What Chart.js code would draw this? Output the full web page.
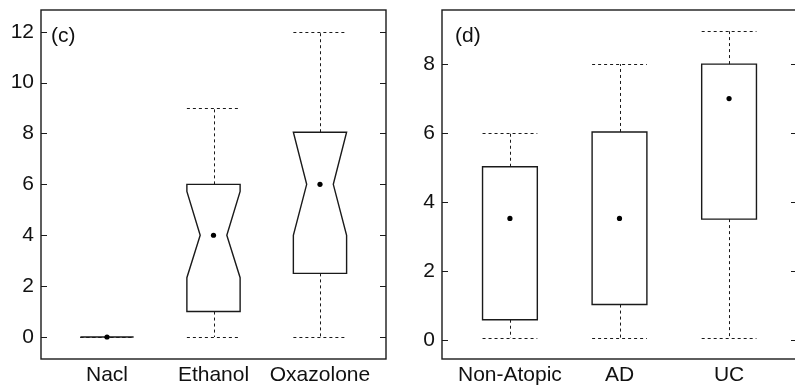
<!DOCTYPE html>
<html>
<head>
<meta charset="utf-8">
<script src="https://cdn.jsdelivr.net/npm/chart.js@4.4.0/dist/chart.umd.min.js"></script>
<style>
  html, body { margin: 0; padding: 0; background: #fff; overflow: hidden; }
  #chartC { position: absolute; left: 0; top: 0; }
  #chartD { position: absolute; left: 400px; top: 0; }
</style>
</head>
<body>
<canvas id="chartC" width="400" height="386"></canvas>
<canvas id="chartD" width="405" height="386"></canvas>
<script>
// Panel (c) - notched boxes
const groupsC = ['Nacl', 'Ethanol', 'Oxazolone'];
const lowC = [0, 0, 0];
const q1C = [0, 1, 2.5];
const medianC = [0, 4, 6];
const q3C = [0, 6, 8.05];
const highC = [0, 9, 12];
const notchLoC = [0, 2.33, 4];
const notchHiC = [0, 5.72, 8.05];
const yTicksC = [0, 2, 4, 6, 8, 10, 12];
const yRangeC = [-0.865, 12.855];

// Panel (d) - plain boxes
const groupsD = ['Non-Atopic', 'AD', 'UC'];
const lowD = [0.05, 0.05, 0.05];
const q1D = [0.58, 1.02, 3.5];
const medianD = [3.52, 3.52, 7];
const q3D = [5.02, 6.03, 8];
const highD = [6, 8, 8.95];
const yTicksD = [0, 2, 4, 6, 8];
const yRangeD = [-0.56, 9.57];

const INK = '#1a1a1a';
const BOX_WIDTH = 0.5;
const FONT = '"Liberation Sans", Arial, Helvetica, sans-serif';

Chart.defaults.font.family = FONT;
Chart.defaults.font.size = 21;
Chart.defaults.color = '#111';

// snap a 1px line onto the pixel grid
const snap = v => Math.round(v) + 0.5;

function makeBoxPlugin(panel) {
    return {
        id: 'boxes' + panel.tag,
        beforeDatasetsDraw(chart) {
            const ctx = chart.ctx;
            const xs = chart.scales.x;
            const ys = chart.scales.y;
            const half = BOX_WIDTH / 2;
            ctx.save();
            ctx.strokeStyle = INK;

            panel.groups.forEach((g, i) => {
                const c = i + 1;
                const xc = snap(xs.getPixelForValue(c));
                const xl = xs.getPixelForValue(c - half);
                const xr = xs.getPixelForValue(c + half);
                const yLow = ys.getPixelForValue(panel.low[i]);
                const yQ1 = ys.getPixelForValue(panel.q1[i]);
                const yMed = ys.getPixelForValue(panel.median[i]);
                const yQ3 = ys.getPixelForValue(panel.q3[i]);
                const yHigh = ys.getPixelForValue(panel.high[i]);

                // whiskers
                ctx.lineWidth = 1;
                ctx.setLineDash([3, 3]);
                ctx.beginPath();
                ctx.moveTo(xc, yQ3); ctx.lineTo(xc, yHigh);
                ctx.moveTo(xc, yQ1); ctx.lineTo(xc, yLow);
                ctx.moveTo(xl, snap(yHigh)); ctx.lineTo(xr, snap(yHigh));
                ctx.moveTo(xl, snap(yLow)); ctx.lineTo(xr, snap(yLow));
                ctx.stroke();

                // box
                ctx.setLineDash([]);
                ctx.lineWidth = 1.4;
                ctx.beginPath();
                if (panel.notchLo) {
                    const xnl = xs.getPixelForValue(c - half / 2);
                    const xnr = xs.getPixelForValue(c + half / 2);
                    const yNlo = ys.getPixelForValue(panel.notchLo[i]);
                    const yNhi = ys.getPixelForValue(panel.notchHi[i]);
                    ctx.moveTo(xl, yQ3);
                    ctx.lineTo(xr, yQ3);
                    ctx.lineTo(xr, yNhi);
                    ctx.lineTo(xnr, yMed);
                    ctx.lineTo(xr, yNlo);
                    ctx.lineTo(xr, yQ1);
                    ctx.lineTo(xl, yQ1);
                    ctx.lineTo(xl, yNlo);
                    ctx.lineTo(xnl, yMed);
                    ctx.lineTo(xl, yNhi);
                    ctx.closePath();
                } else {
                    ctx.rect(xl, yQ3, xr - xl, yQ1 - yQ3);
                }
                ctx.stroke();
            });
            ctx.restore();
        },
        afterDraw(chart) {
            const ctx = chart.ctx;
            const a = chart.chartArea;
            const ys = chart.scales.y;
            ctx.save();
            ctx.strokeStyle = INK;
            ctx.lineWidth = 1.4;
            ctx.strokeRect(a.left, a.top, a.right - a.left, a.bottom - a.top);

            // inward ticks, both sides
            ctx.lineWidth = 1;
            ctx.beginPath();
            panel.yTicks.forEach(v => {
                const y = snap(ys.getPixelForValue(v));
                ctx.moveTo(a.left, y); ctx.lineTo(a.left + 6, y);
                ctx.moveTo(a.right, y); ctx.lineTo(a.right - 6, y);
            });
            ctx.stroke();

            // panel tag
            ctx.fillStyle = '#111';
            ctx.font = '21px ' + FONT;
            ctx.textBaseline = 'middle';
            ctx.textAlign = 'left';
            ctx.fillText('(' + panel.tag + ')', a.left + panel.tagDx, a.top + 26);
            ctx.restore();
        }
    };
}

function buildPanel(canvasId, panel) {
    const dots = panel.median.map((m, i) => ({ x: i + 1, y: m }));
    new Chart(document.getElementById(canvasId), {
        type: 'scatter',
        data: {
            datasets: [{
                data: dots,
                pointRadius: 2.6,
                pointBackgroundColor: '#000',
                pointBorderWidth: 0
            }]
        },
        options: {
            responsive: false,
            animation: false,
            layout: { padding: { top: 10, right: panel.padRight, left: 0, bottom: 0 } },
            plugins: { legend: { display: false }, tooltip: { enabled: false } },
            scales: {
                x: {
                    type: 'linear',
                    min: 0.38,
                    max: 3.62,
                    grid: { display: false, drawTicks: false },
                    border: { display: false },
                    afterBuildTicks: s => { s.ticks = panel.groups.map((g, i) => ({ value: i + 1 })); },
                    afterFit: s => { s.height = 27; s.paddingLeft = 0; s.paddingRight = 0; },
                    ticks: {
                        padding: 4,
                        maxRotation: 0,
                        autoSkip: false,
                        callback: v => panel.groups[v - 1]
                    }
                },
                y: {
                    min: panel.yRange[0],
                    max: panel.yRange[1],
                    grid: { display: false, drawTicks: false },
                    border: { display: false },
                    afterBuildTicks: s => { s.ticks = panel.yTicks.map(v => ({ value: v })); },
                    afterFit: s => { s.width = panel.axisWidth; s.paddingTop = 0; s.paddingBottom = 0; },
                    ticks: { padding: 7 }
                }
            }
        },
        plugins: [makeBoxPlugin(panel)]
    });
}

buildPanel('chartC', {
    tag: 'c', groups: groupsC, low: lowC, q1: q1C, median: medianC, q3: q3C, high: highC,
    notchLo: notchLoC, notchHi: notchHiC, yTicks: yTicksC, yRange: yRangeC,
    axisWidth: 41, padRight: 14, tagDx: 10
});

buildPanel('chartD', {
    tag: 'd', groups: groupsD, low: lowD, q1: q1D, median: medianD, q3: q3D, high: highD,
    notchLo: null, notchHi: null, yTicks: yTicksD, yRange: yRangeD,
    axisWidth: 42, padRight: 8, tagDx: 13
});
</script>
</body>
</html>
